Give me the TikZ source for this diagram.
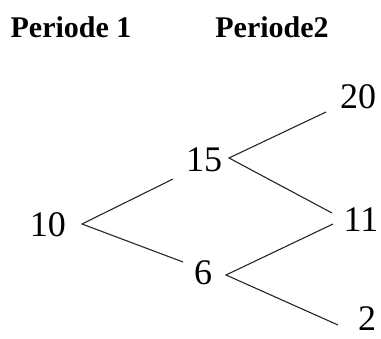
\documentclass[tikz,border=0pt]{standalone}
\usepackage{fontspec}
\setmainfont{Liberation Serif}
\usetikzlibrary{calc}
\begin{document}
\begin{tikzpicture}[x=1pt,y=-1pt,
  hdr/.style={font=\fontsize{30}{30}\selectfont\bfseries, inner sep=0pt},
  num/.style={font=\fontsize{36}{36}\selectfont, inner sep=0pt, text height=24pt, text depth=0pt},
  branch/.style={line width=1.1pt, black!85}]
\useasboundingbox (0,0) rectangle (381,339);
\node[hdr] (p1) at (71,27) {Periode 1};
\node[hdr] (p2) at (272,27) {Periode2};
\node[num] (n10) at (48,225) {10};
\node[num] (n15) at (204,160) {15};
\node[num] (n6) at (203,273) {6};
\node[num] (n20) at (358,97) {20};
\node[num] (n11) at (361,220) {11};
\node[num] (n2) at (367,319) {2};
\draw[branch] ($(n15)+(-31,19)$) -- ($(n10)+(34,-1)$) -- ($(n6)+(-20,-11)$);
\draw[branch] ($(n20)+(-32,15)$) -- ($(n15)+(25,-2)$) -- ($(n11)+(-29,-7)$);
\draw[branch] ($(n11)+(-28,4)$) -- ($(n6)+(23,2)$) -- ($(n2)+(-29,6)$);
\end{tikzpicture}
\end{document}
